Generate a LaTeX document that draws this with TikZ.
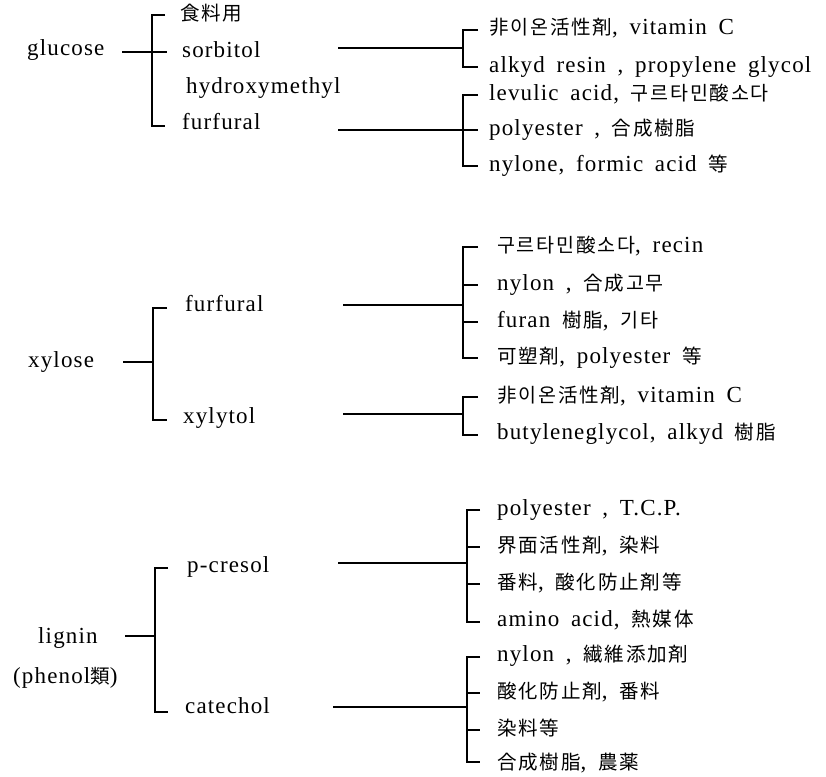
\documentclass[tikz,border=0pt]{standalone}
\usepackage{fontspec}
\setmainfont{Liberation Serif}[LetterSpace=5,WordSpace=1.7]
\newfontfamily\cjk{Noto Sans CJK KR}[Scale=0.85,LetterSpace=9]
\tikzset{
  lbl/.style={anchor=west,inner sep=0pt,text height=15pt,text depth=5pt,font=\fontsize{23}{26}\selectfont},
  ln/.style={line width=1.3pt},
  br/.style={line width=1.1pt},
}
\begin{document}
\begin{tikzpicture}[x=1pt,y=-1pt]
\useasboundingbox (0,0) rectangle (826,776);
% ---------------- glucose ----------------
\node[lbl] (glu) at (27,51) {glucose};
\node[lbl] (food) at (180,16) {\cjk 食料用};
\node[lbl] (sor) at (182,52) {sorbitol};
\node[lbl] (hyd) at (186,88) {hydroxymethyl};
\node[lbl] (fur1) at (182,124) {furfural};
\coordinate (g0) at (122,52);
\coordinate (gt) at (152,15);
\coordinate (gb) at (152,126);
\draw[ln,line width=1.6pt] (g0) -- (167,52);
\draw[br] (165,15) -- (gt) -- (gb) -- (165,126);
% sorbitol products
\node[lbl] (a1) at (489,30) {{\cjk 非이온活性剤}, vitamin C};
\node[lbl] (a2) at (489,67) {alkyd resin , propylene glycol};
\coordinate (s1) at (338,48);
\coordinate (s1b) at (463,48);
\draw[ln] (s1) -- (s1b);
\draw[br] (478,30) -- (463,30) -- (463,67) -- (478,67);
% furfural products
\node[lbl] (b1) at (489,95) {levulic acid, {\cjk 구르타민酸소다}};
\node[lbl] (b2) at (489,130) {polyester , {\cjk 合成樹脂}};
\node[lbl] (b3) at (489,166) {nylone, formic acid {\cjk 等}};
\coordinate (f1) at (338,130);
\coordinate (f1b) at (463,130);
\draw[ln] (f1) -- (f1b);
\draw[br] (478,95) -- (463,95) -- (463,166) -- (478,166);
\draw[br] (463,130) -- (478,130);
% ---------------- xylose ----------------
\node[lbl] (xyl) at (28,362) {xylose};
\node[lbl] (fur2) at (185,306) {furfural};
\node[lbl] (xlt) at (183,418) {xylytol};
\coordinate (x0) at (123,362);
\coordinate (x0b) at (153,362);
\draw[ln] (x0) -- (x0b);
\draw[br] (167,308) -- (153,308) -- (153,420) -- (167,420);
\node[lbl] (c1) at (497,247) {{\cjk 구르타민酸소다}, recin};
\node[lbl] (c2) at (497,285) {nylon , {\cjk 合成고무}};
\node[lbl] (c3) at (497,322) {furan {\cjk 樹脂}, {\cjk 기타}};
\node[lbl] (c4) at (497,358) {{\cjk 可塑剤}, polyester {\cjk 等}};
\coordinate (f2) at (343,305);
\coordinate (f2b) at (463,305);
\draw[ln] (f2) -- (f2b);
\draw[br] (478,247) -- (463,247) -- (463,358) -- (478,358);
\draw[br] (463,285) -- (478,285);
\draw[br] (463,322) -- (478,322);
\node[lbl] (d1) at (497,397) {{\cjk 非이온活性剤}, vitamin C};
\node[lbl] (d2) at (497,434) {butyleneglycol, alkyd {\cjk 樹脂}};
\coordinate (t2) at (343,414);
\coordinate (t2b) at (463,414);
\draw[ln] (t2) -- (t2b);
\draw[br] (478,397) -- (463,397) -- (463,435) -- (478,435);
% ---------------- lignin ----------------
\node[lbl] (lig) at (38,638) {lignin};
\node[lbl] (phe) at (13,678) {(phenol{\cjk 類})};
\node[lbl] (pcr) at (187,567) {p-cresol};
\node[lbl] (cat) at (185,708) {catechol};
\coordinate (l0) at (125,636);
\coordinate (l0b) at (155,636);
\draw[ln] (l0) -- (l0b);
\draw[br] (168,568) -- (155,568) -- (155,712) -- (168,712);
\node[lbl] (e1) at (497,510) {polyester , T.C.P.};
\node[lbl] (e2) at (497,547) {{\cjk 界面活性剤}, {\cjk 染料}};
\node[lbl] (e3) at (497,584) {{\cjk 番料}, {\cjk 酸化防止剤等}};
\node[lbl] (e4) at (497,621) {amino acid, {\cjk 熱媒体}};
\coordinate (p1) at (338,563);
\coordinate (p1b) at (467,563);
\draw[ln] (p1) -- (p1b);
\draw[br] (480,510) -- (467,510) -- (467,622) -- (480,622);
\draw[br] (467,547) -- (480,547);
\draw[br] (467,584) -- (480,584);
\node[lbl] (h1) at (497,656) {nylon , {\cjk 繊維添加剤}};
\node[lbl] (h2) at (497,693) {{\cjk 酸化防止剤}, {\cjk 番料}};
\node[lbl] (h3) at (497,730) {\cjk 染料等};
\node[lbl] (h4) at (497,764) {{\cjk 合成樹脂}, {\cjk 農薬}};
\coordinate (k1) at (333,707);
\coordinate (k1b) at (467,707);
\draw[ln] (k1) -- (k1b);
\draw[br] (480,657) -- (467,657) -- (467,762) -- (480,762);
\draw[br] (467,693) -- (480,693);
\draw[br] (467,730) -- (480,730);
\end{tikzpicture}
\end{document}
